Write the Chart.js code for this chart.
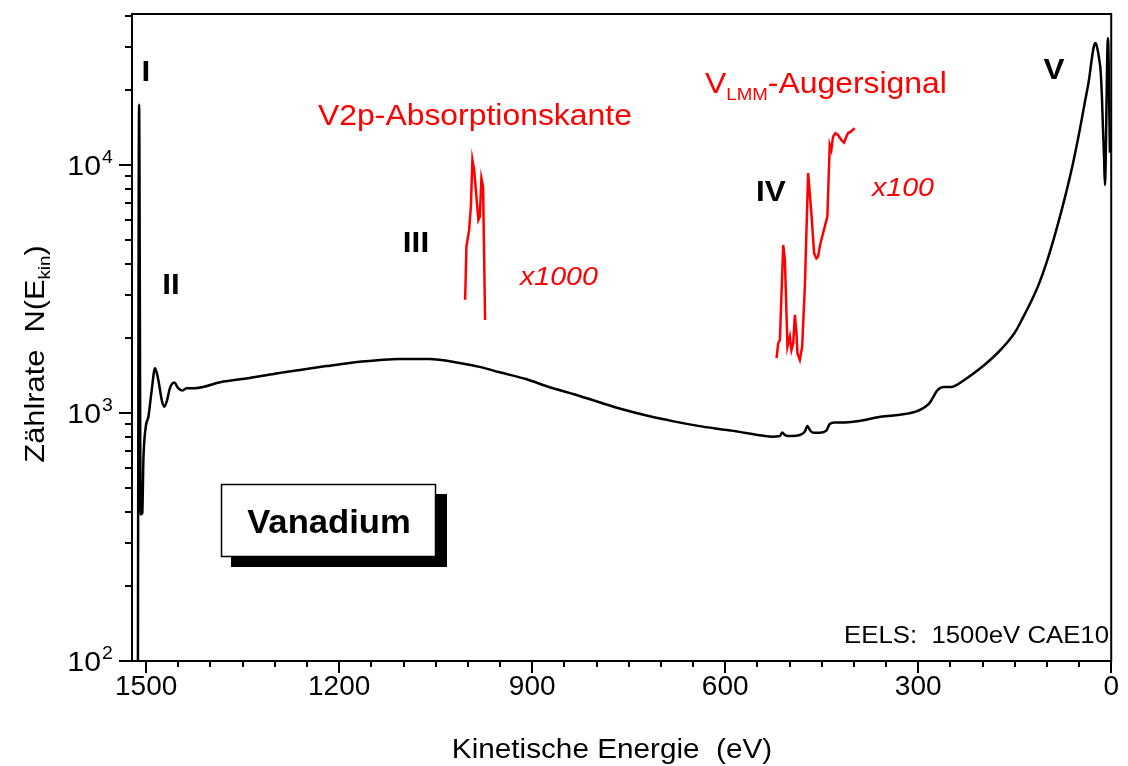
<!DOCTYPE html>
<html>
<head>
<meta charset="utf-8">
<script src="https://cdn.jsdelivr.net/npm/chart.js@4.4.1/dist/chart.umd.min.js"></script>
<style>
html,body{margin:0;padding:0;background:#fff;}
canvas{display:block;}
</style>
</head>
<body>
<canvas id="c" width="1128" height="766"></canvas>
<script>
// ---------- DATA ----------
// Black EELS spectrum: kinetic energy (eV) and count rate
const blackE = [1513, 1511, 1508.5, 1506, 1504.3, 1500.6, 1496.5, 1491.3, 1486.2, 1481.1, 1475.8, 1471.8, 1468.1, 1463, 1456.4, 1450.2, 1444, 1437.2, 1424.3, 1410, 1385, 1339, 1300, 1261, 1220, 1184, 1140, 1106, 1060, 1013, 980, 952, 910, 874, 835, 797, 760, 719, 680, 642, 610, 580, 549, 528, 515, 511.4, 507.2, 497, 484, 476.2, 472.2, 468.5, 463.4, 453, 442.7, 437.5, 429.7, 414.2, 398.7, 383.2, 362.6, 331.6, 300.6, 282.5, 269.6, 259.3, 249, 228.3, 203, 190, 176.7, 163, 150.3, 138, 125.5, 112, 99.2, 86, 72.9, 60, 48.1, 41, 34.6, 30, 27, 24.3, 21.5, 18.5, 16.6, 14.5, 12.9, 11, 9.8, 5.1, 2.0];
const blackN = [50, 17500, 390, 394, 646, 880, 966, 1239, 1514, 1359, 1128, 1060, 1111, 1259, 1326, 1259, 1231, 1259, 1259, 1276, 1330, 1384, 1440, 1490, 1545, 1591, 1630, 1652, 1652, 1591, 1530, 1462, 1370, 1273, 1190, 1107, 1035, 972, 925, 887, 862, 841, 815, 802, 807, 835, 815, 807, 815, 841, 887, 854, 833, 833, 849, 903, 915, 915, 923, 937, 961, 982, 1020, 1096, 1240, 1273, 1273, 1358, 1517, 1620, 1745, 1905, 2100, 2400, 2780, 3330, 4140, 5400, 7230, 10000, 14200, 17900, 22000, 27000, 30000, 31000, 29500, 26500, 24200, 19000, 14250, 10500, 8300, 32500, 11200];

// Red: V2p absorption edge region (shown x1000)
const redAbsE = [1004.2, 1002.2, 998, 995.3, 992.9, 990.2, 986.7, 983.6, 981.4, 978.9, 976.3, 973.2];
const redAbsN = [2860, 4690, 5470, 6790, 10470, 9540, 7450, 6000, 6190, 8830, 8170, 2370];

// Red: V LMM Auger signal region (shown x100)
const redAugE = [520.2, 517.6, 515, 509.8, 507.2, 503.2, 499.5, 497, 494.3, 491.7, 489.2, 487.7, 484, 480.4, 476.2, 471.1, 466, 461.8, 458.2, 455.6, 453, 450.5, 445.2, 441.2, 437.5, 435, 432.4, 428.8, 424.6, 419.5, 415.3, 411.7, 409.1, 404.9, 398.7];
const redAugN = [1664, 1910, 1969, 4750, 4140, 1849, 2030, 1795, 1910, 2485, 2095, 1741, 1637, 1849, 3230, 9270, 6380, 4400, 4205, 4270, 4690, 4990, 5640, 6190, 12050, 11490, 13000, 13420, 13210, 12610, 12300, 13000, 13420, 13620, 14060];

// Tick labels
const xTickValues = [1500, 1200, 900, 600, 300, 0];
const xTickLabels = ['1500', '1200', '900', '600', '300', '0'];
const yTickValues = [100, 1000, 10000];
const yTickBases = ['10', '10', '10'];
const yTickExps = ['2', '3', '4'];

// ---------- CHART ----------
const FONT = "'Liberation Sans', Arial, Helvetica, sans-serif";
const toPts = (xs, ys) => xs.map((x, i) => ({x: x, y: ys[i]}));

function txt(ctx, s, x, y, font, color, align, sx) {
  ctx.save();
  ctx.font = font;
  ctx.fillStyle = color;
  ctx.textAlign = align || 'left';
  ctx.textBaseline = 'alphabetic';
  ctx.translate(x, y);
  ctx.scale(sx || 1, 1);
  ctx.fillText(s, 0, 0);
  ctx.restore();
}

const decor = {
  id: 'decor',
  afterDraw(chart) {
    const ctx = chart.ctx;
    const a = chart.chartArea;
    const xs = chart.scales.x, ys = chart.scales.y;
    ctx.save();
    ctx.strokeStyle = '#000';
    ctx.lineWidth = 2;
    ctx.strokeRect(a.left, a.top, a.right - a.left, a.bottom - a.top);
    // x ticks (major every 300, minor every 50)
    for (let v = 0; v <= 1500; v += 50) {
      const px = Math.round(xs.getPixelForValue(v));
      const len = (v % 300 === 0) ? 12 : 6;
      ctx.beginPath(); ctx.moveTo(px, a.bottom); ctx.lineTo(px, a.bottom + len); ctx.stroke();
    }
    // y ticks (log)
    for (let d = 100; d <= 10000; d *= 10) {
      for (let m = 1; m <= 9; m++) {
        const v = d * m;
        if (v > ys.max) break;
        const py = Math.round(ys.getPixelForValue(v));
        const len = (m === 1) ? 13 : 7;
        ctx.beginPath(); ctx.moveTo(a.left - len, py); ctx.lineTo(a.left, py); ctx.stroke();
      }
    }
    // y tick labels with superscripts
    yTickValues.forEach((v, i) => {
      const py = ys.getPixelForValue(v);
      txt(ctx, yTickBases[i], 101, py + 10, '28px ' + FONT, '#000', 'right', 1.08);
      txt(ctx, yTickExps[i], 102, py - 2, '18px ' + FONT, '#000', 'left', 1.08);
    });
    // axis titles
    txt(ctx, 'Kinetische Energie  (eV)', 612, 758, '27px ' + FONT, '#000', 'center', 1.1);
    // y title rotated with subscript
    ctx.save();
    ctx.translate(44, 354);
    ctx.rotate(-Math.PI / 2);
    ctx.scale(1.1, 1);
    ctx.fillStyle = '#000';
    ctx.textBaseline = 'alphabetic';
    ctx.font = '28px ' + FONT;
    const p1 = 'Zählrate  N(E', p3 = ')';
    const w1 = ctx.measureText(p1).width;
    const w3 = ctx.measureText(p3).width;
    ctx.font = '17px ' + FONT;
    const w2 = ctx.measureText('kin').width;
    let sx0 = -(w1 + w2 + w3) / 2;
    ctx.font = '28px ' + FONT;
    ctx.textAlign = 'left';
    ctx.fillText(p1, sx0, 0);
    ctx.font = '17px ' + FONT;
    ctx.fillText('kin', sx0 + w1, 6);
    ctx.font = '28px ' + FONT;
    ctx.fillText(p3, sx0 + w1 + w2, 0);
    ctx.restore();

    // Roman numeral labels
    const bold = 'bold 30px ' + FONT;
    txt(ctx, 'I', 146, 81, bold, '#000', 'center', 1.05);
    txt(ctx, 'II', 171, 294, bold, '#000', 'center', 1.05);
    txt(ctx, 'III', 416, 252, bold, '#000', 'center', 1.05);
    txt(ctx, 'IV', 771, 201, bold, '#000', 'center', 1.05);
    txt(ctx, 'V', 1054, 79, bold, '#000', 'center', 1.05);

    // red annotations
    const red = '#ff0000';
    txt(ctx, 'V2p-Absorptionskante', 318, 125, '29px ' + FONT, red, 'left', 1.1);
    ctx.save();
    ctx.fillStyle = red;
    ctx.textBaseline = 'alphabetic';
    ctx.translate(705, 93);
    ctx.scale(1.1, 1);
    ctx.font = '29px ' + FONT;
    const wv = ctx.measureText('V').width;
    ctx.fillText('V', 0, 0);
    ctx.font = '17px ' + FONT;
    const wl = ctx.measureText('LMM').width;
    ctx.fillText('LMM', wv, 7);
    ctx.font = '29px ' + FONT;
    ctx.fillText('-Augersignal', wv + wl, 0);
    ctx.restore();
    txt(ctx, 'x1000', 520, 285, 'italic 26px ' + FONT, red, 'left', 1.1);
    txt(ctx, 'x100', 872, 196, 'italic 26px ' + FONT, red, 'left', 1.1);

    // EELS note
    txt(ctx, 'EELS:  1500eV CAE10', 1109, 643, '23px ' + FONT, '#000', 'right', 1.12);

    // Vanadium box with shadow
    ctx.fillStyle = '#000';
    ctx.fillRect(231, 494, 216, 73);
    ctx.fillStyle = '#fff';
    ctx.fillRect(221, 484, 215, 73);
    ctx.strokeStyle = '#000';
    ctx.lineWidth = 1.5;
    ctx.strokeRect(221.5, 484.5, 214, 72);
    txt(ctx, 'Vanadium', 329, 533, 'bold 33px ' + FONT, '#000', 'center', 1.05);
    ctx.restore();
  }
};

new Chart(document.getElementById('c').getContext('2d'), {
  type: 'line',
  data: {
    datasets: [
      {data: toPts(blackE, blackN), borderColor: '#000', borderWidth: 2.5, pointRadius: 0, cubicInterpolationMode: 'monotone', fill: false},
      {data: toPts(redAbsE, redAbsN), borderColor: '#ff0000', borderWidth: 2.5, pointRadius: 0, tension: 0, fill: false},
      {data: toPts(redAugE, redAugN), borderColor: '#ff0000', borderWidth: 2.5, pointRadius: 0, tension: 0, fill: false}
    ]
  },
  options: {
    responsive: false,
    animation: false,
    devicePixelRatio: 1,
    layout: {padding: {left: 0, right: 14, top: 14, bottom: 0}},
    plugins: {legend: {display: false}, tooltip: {enabled: false}, title: {display: false}},
    scales: {
      x: {
        type: 'linear', reverse: true, min: 0, max: 1522,
        afterFit: s => { s.height = 105; },
        afterBuildTicks: s => { s.ticks = xTickValues.map(v => ({value: v})); },
        grid: {display: false, drawTicks: false},
        border: {display: false},
        ticks: {
          color: '#000', font: {family: FONT, size: 28}, padding: 9,
          maxRotation: 0, autoSkip: false,
          callback: (v) => { const i = xTickValues.indexOf(v); return i >= 0 ? xTickLabels[i] : ''; }
        }
      },
      y: {
        type: 'logarithmic', min: 100, max: 40600,
        afterFit: s => { s.width = 132; },
        grid: {display: false, drawTicks: false},
        border: {display: false},
        ticks: {display: false}
      }
    }
  },
  plugins: [decor]
});
</script>
</body>
</html>
